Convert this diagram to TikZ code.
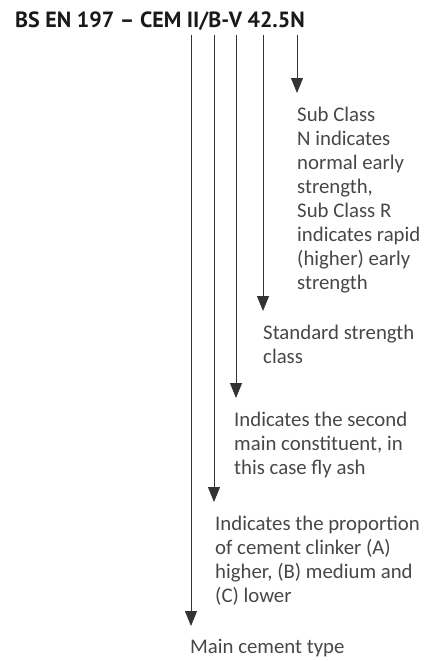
\documentclass[tikz,border=0pt]{standalone}
\usepackage{fontspec}
\setmainfont{Carlito}
\newfontfamily\headfont[Ligatures=TeX]{PT Sans}
\usetikzlibrary{arrows.meta, positioning}
\tikzset{>={Triangle[width=12pt,length=15pt]}}
\definecolor{ink}{HTML}{333333}

\begin{document}
\begin{tikzpicture}[x=1pt, y=-1pt,
  lbl/.style={align=left, inner xsep=0pt, inner ysep=0pt,
    text=black!72, font=\fontsize{20.8}{24}\selectfont},
  conn/.style={->, line width=1pt, draw=ink}]
\useasboundingbox (0,0) rectangle (425,661);

\node[anchor=base west, inner sep=0pt, font=\headfont\bfseries\fontsize{22}{24}\selectfont, text=black!90]
  (title) at (15,28) {BS EN 197 – CEM II/B-V 42.5N};

% arrow starts below the title
\coordinate (tMain) at (191,35);
\coordinate (tProp) at (214,35);
\coordinate (tSec) at (236,35);
\coordinate (tStr) at (263,35);
\coordinate (tSub) at (297,35);
% arrow tips
\coordinate (eMain) at (191,626);
\coordinate (eProp) at (214,502);
\coordinate (eSec) at (236,398);
\coordinate (eStr) at (263,311);
\coordinate (eSub) at (297,93);

\node[lbl, below=14pt of eSub, anchor=north west] (sub) {Sub Class\\N indicates\\normal early\\strength,\\Sub Class R\\indicates rapid\\(higher) early\\strength};
\node[lbl, below=14pt of eStr, anchor=north west] (strength) {Standard strength\\class};
\node[lbl, below=14pt of eSec, anchor=north west, xshift=-2pt] (second) {Indicates the second\\main constituent, in\\this case fly ash};
\node[lbl, below=14pt of eProp, anchor=north west, xshift=1pt] (prop) {Indicates the proportion\\of cement clinker (A)\\higher, (B) medium and\\(C) lower};
\node[lbl, below=13pt of eMain, anchor=north west, xshift=-1pt] (maintype) {Main cement type};

\draw[conn] (tSub) -- (eSub);
\draw[conn] (tStr) -- (eStr);
\draw[conn] (tSec) -- (eSec);
\draw[conn] (tProp) -- (eProp);
\draw[conn] (tMain) -- (eMain);
\end{tikzpicture}
\end{document}
